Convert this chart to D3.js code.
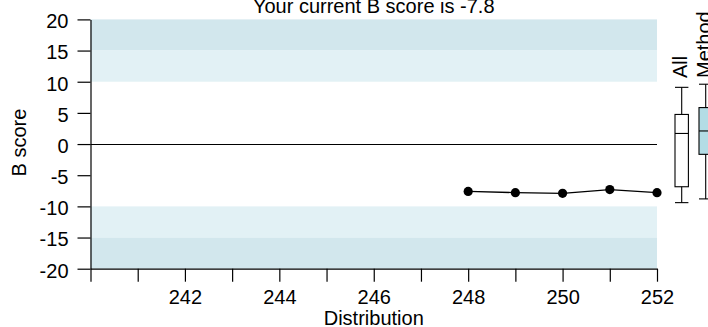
<!DOCTYPE html>
<html><head><meta charset="utf-8">
<script src="https://cdn.jsdelivr.net/npm/d3@7"></script>
<style>
html,body{margin:0;padding:0;background:#fff;}
svg{display:block;}
text{font-family:"Liberation Sans",Arial,Helvetica,sans-serif;fill:#000;}
</style></head>
<body>
<svg id="c" width="708" height="327"></svg>
<script>
// ---- data ----
const titleText = "Your current B score is -7.8";
const xLabel = "Distribution";
const yLabel = "B score";
const distributions = [248, 249, 250, 251, 252];
const bScores = [-7.6, -7.8, -7.9, -7.3, -7.8];
const xTicks = [240, 241, 242, 243, 244, 245, 246, 247, 248, 249, 250, 251, 252];
const xTickLabels = ["", "", "242", "", "244", "", "246", "", "248", "", "250", "", "252"];
const yTicks = [-20, -15, -10, -5, 0, 5, 10, 15, 20];
const yTickLabels = ["-20", "-15", "-10", "-5", "0", "5", "10", "15", "20"];
const bandRanges = [[15, 20], [10, 15], [-15, -10], [-20, -15]];
const bandShade = ["dark", "light", "light", "dark"];
const boxNames = ["All", "Method"];
const boxWhiskerLow = [-9.4, -8.8];
const boxQ1 = [-6.85, -1.65];
const boxMedian = [1.7, 2.1];
const boxQ3 = [4.75, 5.85];
const boxWhiskerHigh = [9.1, 9.6];

// ---- layout ----
const svg = d3.select("#c");
const x = d3.scaleLinear().domain([240, 252]).range([90.5, 657]);
const y = d3.scaleLinear().domain([-20, 20]).range([268.7, 19.4]);
const bx = d3.scalePoint().domain(boxNames).range([681.7, 705.7]);
const boxW = 13.4;
const bandColor = {dark: "#d2e7ed", light: "#e2f1f5"};
const boxFill = {All: "#ffffff", Method: "#b3dce5"};

// bands
svg.append("g").selectAll("rect").data(bandRanges).join("rect")
  .attr("x", x(240)).attr("width", x(252) - x(240))
  .attr("y", d => y(d[1])).attr("height", d => y(d[0]) - y(d[1]))
  .attr("fill", (d, i) => bandColor[bandShade[i]]);

// zero line
svg.append("line")
  .attr("x1", x(240)).attr("x2", x(252))
  .attr("y1", Math.round(y(0)) + 0.5).attr("y2", Math.round(y(0)) + 0.5)
  .attr("stroke", "#000").attr("stroke-width", 1.2);

// axes
const yAxis = d3.axisLeft(y).tickValues(yTicks).tickSize(13).tickPadding(9).tickSizeOuter(0)
  .tickFormat((d, i) => yTickLabels[i]);
const gy = svg.append("g").attr("transform", "translate(90.5,0)").call(yAxis);
const xAxis = d3.axisBottom(x).tickValues(xTicks).tickSize(13).tickPadding(8).tickSizeOuter(0)
  .tickFormat((d, i) => xTickLabels[i]);
const gx = svg.append("g").attr("transform", "translate(0,268.7)").call(xAxis);
[gx, gy].forEach(g => {
  g.selectAll("path.domain").attr("stroke", "#000").attr("stroke-width", 1.2);
  g.selectAll(".tick line").attr("stroke", "#000").attr("stroke-width", 1.2);
  g.selectAll("text").attr("font-size", 20).attr("fill", "#000")
    .style("font-family", "'Liberation Sans',Arial,sans-serif");
});
gy.selectAll("text").attr("dy", "0.42em");
gx.selectAll("text").attr("dy", "0.72em");

// line + points
const line = d3.line().x((d, i) => x(distributions[i])).y(d => y(d));
svg.append("path").datum(bScores).attr("d", line)
  .attr("fill", "none").attr("stroke", "#000").attr("stroke-width", 1.3);
svg.append("g").selectAll("circle").data(bScores).join("circle")
  .attr("cx", (d, i) => x(distributions[i])).attr("cy", d => y(d)).attr("r", 4.6)
  .attr("fill", "#000");

// box plots
const bg = svg.append("g").selectAll("g").data(boxNames).join("g");
bg.append("line")
  .attr("x1", d => bx(d)).attr("x2", d => bx(d))
  .attr("y1", (d, i) => y(boxWhiskerHigh[i])).attr("y2", (d, i) => y(boxWhiskerLow[i]))
  .attr("stroke", "#000").attr("stroke-width", 1.1);
bg.append("line").attr("x1", d => bx(d) - boxW / 2).attr("x2", d => bx(d) + boxW / 2)
  .attr("y1", (d, i) => y(boxWhiskerHigh[i])).attr("y2", (d, i) => y(boxWhiskerHigh[i]))
  .attr("stroke", "#000").attr("stroke-width", 1.1);
bg.append("line").attr("x1", d => bx(d) - boxW / 2).attr("x2", d => bx(d) + boxW / 2)
  .attr("y1", (d, i) => y(boxWhiskerLow[i])).attr("y2", (d, i) => y(boxWhiskerLow[i]))
  .attr("stroke", "#000").attr("stroke-width", 1.1);
bg.append("rect")
  .attr("x", d => bx(d) - boxW / 2).attr("width", boxW)
  .attr("y", (d, i) => y(boxQ3[i])).attr("height", (d, i) => y(boxQ1[i]) - y(boxQ3[i]))
  .attr("fill", d => boxFill[d]).attr("stroke", "#000").attr("stroke-width", 1.1);
bg.append("line").attr("x1", d => bx(d) - boxW / 2).attr("x2", d => bx(d) + boxW / 2)
  .attr("y1", (d, i) => y(boxMedian[i])).attr("y2", (d, i) => y(boxMedian[i]))
  .attr("stroke", "#000").attr("stroke-width", 1.1);
bg.append("text")
  .attr("transform", d => `translate(${bx(d) + 5},78) rotate(-90)`)
  .attr("font-size", 20).text(d => d);

// titles
svg.append("text").attr("x", (x(240) + x(252)) / 2).attr("y", 12.7)
  .attr("text-anchor", "middle").attr("font-size", 20).text(titleText);
svg.append("text").attr("x", (x(240) + x(252)) / 2).attr("y", 325)
  .attr("text-anchor", "middle").attr("font-size", 20).text(xLabel);
svg.append("text").attr("transform", `translate(26,${y(0) - 1.5}) rotate(-90)`)
  .attr("text-anchor", "middle").attr("font-size", 20).text(yLabel);
</script>
</body></html>
